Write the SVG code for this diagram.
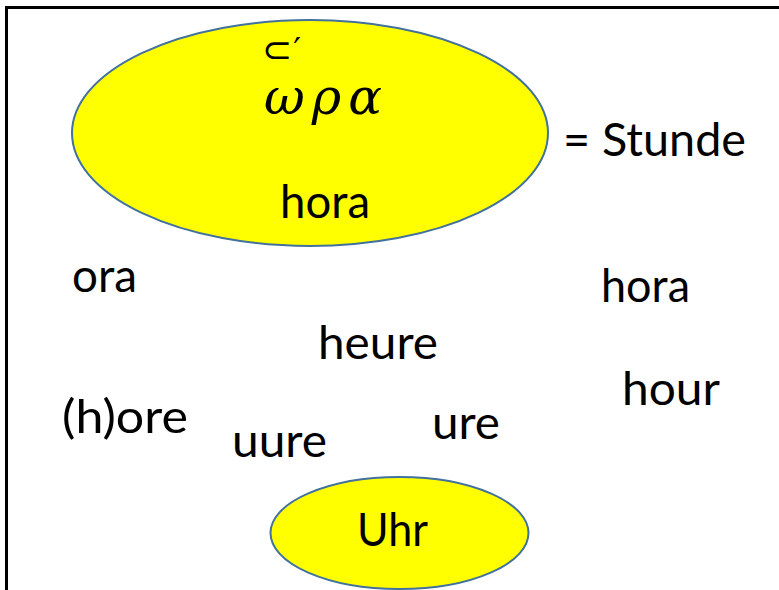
<svg xmlns="http://www.w3.org/2000/svg" width="779" height="590" viewBox="0 0 779 590">
  <style>
    .word { font-family: Lato, "Liberation Sans", sans-serif; font-size: 47px; fill: #000; }
    .blob { fill: #FFFF00; stroke: #41719C; stroke-width: 2; }
    .greek { font-family: "DejaVu Serif", "Liberation Serif", serif; font-style: italic; fill: #000; }
  </style>
  <rect width="779" height="590" fill="#fff"/>
  <!-- frame: top and left edges -->
  <path d="M6.5 590 V7.5 H779" fill="none" stroke="#000" stroke-width="3"/>

  <g id="node-hora-greek">
    <ellipse class="blob" cx="310" cy="133" rx="238" ry="113"/>
    <!-- breathing mark and accent over omega -->
    <text x="262" y="62" font-family="DejaVu Sans, sans-serif" font-size="36" fill="#000">⊂<tspan font-size="34" dx="1">′</tspan></text>
    <text class="greek" x="264" y="114" font-size="50" letter-spacing="7">ωρα</text>
    <text class="word" x="280" y="218" textLength="90" lengthAdjust="spacingAndGlyphs">hora</text>
  </g>

  <g id="node-stunde">
    <text class="word" x="563" y="156" textLength="183" lengthAdjust="spacingAndGlyphs">= Stunde</text>
  </g>

  <g id="node-ora"><text class="word" x="72" y="292" textLength="65" lengthAdjust="spacingAndGlyphs">ora</text></g>
  <g id="node-hora"><text class="word" x="601" y="302" textLength="89" lengthAdjust="spacingAndGlyphs">hora</text></g>
  <g id="node-heure"><text class="word" x="318" y="359" textLength="120" lengthAdjust="spacingAndGlyphs">heure</text></g>
  <g id="node-hour"><text class="word" x="622" y="405" textLength="98" lengthAdjust="spacingAndGlyphs">hour</text></g>
  <g id="node-hore"><text class="word" x="62" y="433" textLength="126" lengthAdjust="spacingAndGlyphs">(h)ore</text></g>
  <g id="node-uure"><text class="word" x="232" y="457" textLength="95" lengthAdjust="spacingAndGlyphs">uure</text></g>
  <g id="node-ure"><text class="word" x="432" y="439" textLength="68" lengthAdjust="spacingAndGlyphs">ure</text></g>

  <g id="node-uhr">
    <ellipse class="blob" cx="399.5" cy="533" rx="129" ry="56"/>
    <text class="word" x="357" y="546" textLength="71" lengthAdjust="spacingAndGlyphs">Uhr</text>
  </g>

  <g id="connectors"/>
</svg>
